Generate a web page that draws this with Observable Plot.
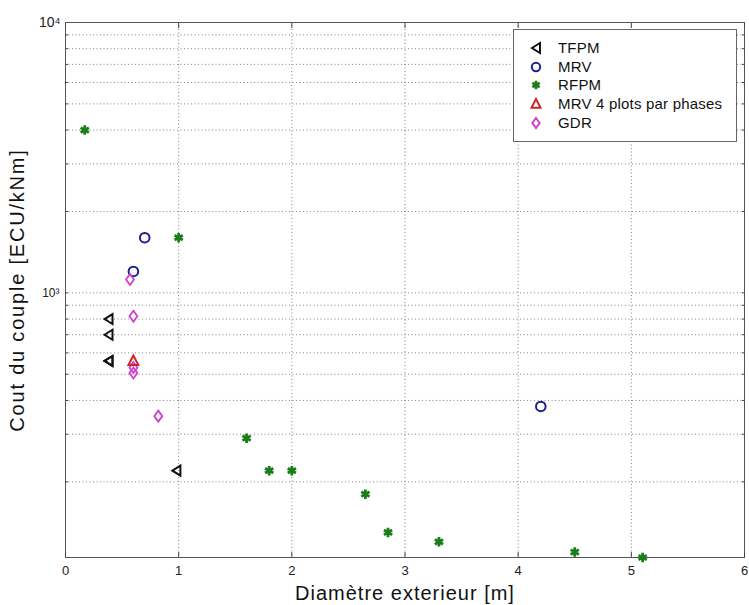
<!DOCTYPE html>
<html><head><meta charset="utf-8">
<script src="https://cdn.jsdelivr.net/npm/d3@7"></script>
<script src="https://cdn.jsdelivr.net/npm/@observablehq/plot@0.6"></script>
<style>
body{margin:0;background:#fff;font-family:"Liberation Sans",Arial,sans-serif;}
#wrap{position:relative;width:749px;height:605px;}
#legend{position:absolute;left:513px;top:29px;width:224px;height:113px;background:#fff;border:1px solid #666;box-sizing:border-box;font-size:15px;color:#111;}
#legend .row{position:absolute;left:0;height:18px;line-height:18px;}
#legend svg{position:absolute;left:14px;top:0;}
#legend span{position:absolute;left:44px;white-space:nowrap;letter-spacing:0.2px;}
</style></head>
<body><div id="wrap"><div id="chart"></div><div id="legend"></div></div>
<script>
// ---- data ----
const seriesNames = ["TFPM", "MRV", "RFPM", "MRV 4 plots par phases", "GDR"];
const tfpmX = [0.38, 0.38, 0.38, 0.38, 0.98];
const tfpmY = [800, 700, 560, 560, 220];
const mrvX = [0.7, 0.6, 4.2];
const mrvY = [1600, 1200, 380];
const rfpmX = [0.17, 1.0, 1.6, 1.8, 2.0, 2.65, 2.85, 3.3, 4.5, 5.1];
const rfpmY = [4000, 1600, 290, 220, 220, 180, 130, 120, 110, 105];
const mrv4X = [0.6];
const mrv4Y = [560];
const gdrX = [0.57, 0.6, 0.6, 0.6, 0.82];
const gdrY = [1120, 820, 530, 505, 350];
const xTicks = [0, 1, 2, 3, 4, 5, 6];
const yGrid = [200, 300, 400, 500, 600, 700, 800, 900, 1000, 2000, 3000, 4000, 5000, 6000, 7000, 8000, 9000];
const yTickLabels = {1000: "10³", 10000: "10⁴"};

// ---- colours / symbols ----
const colors = {TFPM: "#111111", MRV: "#20208a", RFPM: "#1a7d1a", "MRV 4 plots par phases": "#c8282a", GDR: "#d040d0"};
const triLeft = {draw(c, size){const h = Math.sqrt(size / Math.PI); c.moveTo(-0.8*h, 0); c.lineTo(0.8*h, -h); c.lineTo(0.8*h, h); c.closePath();}};
const triUp = {draw(c, size){const h = Math.sqrt(size / Math.PI); c.moveTo(0, -h); c.lineTo(0.9*h, 0.75*h); c.lineTo(-0.9*h, 0.75*h); c.closePath();}};
const diamond = {draw(c, size){const h = Math.sqrt(size / Math.PI); c.moveTo(0, -h); c.lineTo(0.72*h, 0); c.lineTo(0, h); c.lineTo(-0.72*h, 0); c.closePath();}};
const zip = (xs, ys) => xs.map((x, i) => ({x, y: ys[i]}));

const chart = Plot.plot({
  width: 749, height: 605,
  marginLeft: 65, marginRight: 5, marginTop: 22, marginBottom: 48,
  style: {fontFamily: '"Liberation Sans", Arial, sans-serif', fontSize: "13px", color: "#222", background: "#fff"},
  x: {domain: [0, 6]},
  y: {type: "log", domain: [105, 10000]},
  marks: [
    Plot.gridX([1, 2, 3, 4, 5], {stroke: "#333", strokeOpacity: 0.6, strokeDasharray: "1,2.5"}),
    Plot.gridY(yGrid, {stroke: "#333", strokeOpacity: 0.6, strokeDasharray: "1,2.5"}),
    Plot.frame({stroke: "#555"}),
    Plot.axisX(xTicks, {anchor: "bottom", tickSize: 0, tickPadding: 8, tickFormat: d3.format("d"), label: "Diamètre exterieur [m]", labelAnchor: "center", labelArrow: "none", labelOffset: 42}),
    Plot.axisX(xTicks, {anchor: "bottom", tickSize: -5, tickFormat: () => "", label: null, stroke: "#444"}),
    Plot.axisX(xTicks, {anchor: "top", tickSize: -5, tickFormat: () => "", label: null, stroke: "#444"}),
    Plot.axisY(yGrid, {anchor: "left", tickSize: -3, tickFormat: () => "", label: null, stroke: "#444"}),
    Plot.axisY(yGrid, {anchor: "right", tickSize: -3, tickFormat: () => "", label: null, stroke: "#444"}),
    Plot.axisY([10000], {anchor: "left", tickSize: 0, tickPadding: 5, tickFormat: d => yTickLabels[d], label: "Cout du couple [ECU/kNm]", labelAnchor: "center", labelArrow: "none", labelOffset: 56}),
    Plot.axisY([1000], {anchor: "left", tickSize: 0, tickPadding: 6, tickFormat: d => yTickLabels[d], label: null}),
    Plot.dot(zip(rfpmX, rfpmY), {x: "x", y: "y", symbol: "asterisk", r: 4.5, stroke: colors.RFPM, strokeWidth: 2.8}),
    Plot.dot(zip(mrvX, mrvY), {x: "x", y: "y", symbol: "circle", r: 4.8, stroke: colors.MRV, strokeWidth: 2}),
    Plot.dot(zip(gdrX, gdrY), {x: "x", y: "y", symbol: diamond, r: 5.5, stroke: colors.GDR, strokeWidth: 1.8}),
    Plot.dot(zip(tfpmX, tfpmY), {x: "x", y: "y", symbol: triLeft, r: 5, stroke: colors.TFPM, strokeWidth: 2}),
    Plot.dot(zip(mrv4X, mrv4Y), {x: "x", y: "y", symbol: triUp, r: 5.5, stroke: colors["MRV 4 plots par phases"], strokeWidth: 2})
  ]
});
document.getElementById("chart").appendChild(chart);
// text styling (by content)
d3.select(chart).selectAll("text").each(function(){
  const t = d3.select(this), s = t.text().trim();
  if (/^\d$/.test(s)) t.style("font-size", "13px");
  else if (s === "10⁴") t.style("font-size", "14px");
  else if (s === "10³") t.style("font-size", "12px");
  else if (s.startsWith("Diam")) t.style("font-size", "20px").style("letter-spacing", "1px").style("fill", "#111");
  else if (s.startsWith("Cout")) t.style("font-size", "20px").style("letter-spacing", "1.8px").style("fill", "#111");
});

// ---- legend ----
const legend = d3.select("#legend");
seriesNames.forEach((name, i) => {
  const row = legend.append("div").attr("class", "row").style("top", (9 + i * 18.7) + "px").style("width", "220px");
  const svg = row.append("svg").attr("width", 16).attr("height", 18);
  const sym = name === "MRV" ? d3.symbol(d3.symbolCircle, Math.PI * 4.2 * 4.2)
    : name === "RFPM" ? d3.symbol(d3.symbolAsterisk, Math.PI * 4 * 4)
    : d3.symbol(name === "TFPM" ? triLeft : name === "GDR" ? diamond : triUp, Math.PI * 25);
  svg.append("path").attr("transform", "translate(8,9)").attr("d", sym()).attr("fill", "none")
    .attr("stroke", colors[name]).attr("stroke-width", name === "RFPM" ? 2.6 : 2);
  row.append("span").text(name);
});
</script></body></html>
